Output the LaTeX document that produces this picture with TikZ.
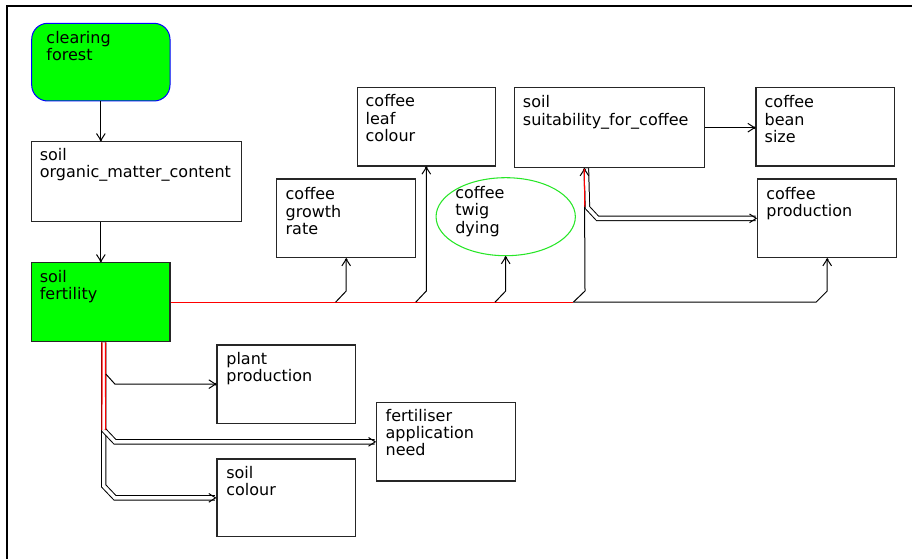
\documentclass[tikz,border=0pt]{standalone}
\usepackage{fontspec}
\setmainfont{DejaVu Sans}
\usetikzlibrary{arrows.meta,fit,shapes.geometric,calc}
\definecolor{twigc}{RGB}{40,230,40}
\begin{document}
\begin{tikzpicture}[x=0.75pt,y=-0.75pt,
  box/.style={draw=black!85, line width=0.9pt, inner sep=0pt},
  gbox/.style={box, fill=green},
  txt/.style={anchor=north west, inner sep=0pt, align=left, font=\fontsize{12pt}{13pt}\selectfont},
  conn/.style={line width=0.75pt, draw=black},
  tipa/.tip={Straight Barb[length=5pt,width=6.5pt,sep=-1.8pt] Circle[length=1.8pt]},
  arr/.style={conn, -tipa},
  dbl/.style={line width=0.75pt, draw=black, double=white, double distance=2.6pt},
  darr/.style={dbl, -{Straight Barb[length=5pt,width=6.5pt]}},
  redl/.style={line width=0.8pt, draw=red},
]
\useasboundingbox (0,0) rectangle (912,559);
% frame
\draw[line width=1.8pt] (6.8,559) -- (6.8,6.3) -- (912,6.3);

% boxes
\node[gbox, draw=blue, line width=0.75pt, rounded corners=12pt, fit={(31.7,23.3) (170,101)}] (clear) {};
\node[box, fit={(31.7,141.7) (241.7,221.7)}] (organic) {};
\node[gbox, fit={(31.7,262.7) (170,341.7)}] (fert) {};
\node[box, fit={(276.7,179) (415.7,257.7)}] (growth) {};
\node[box, fit={(357.3,87.3) (495.3,166)}] (leaf) {};
\node[ellipse, draw=twigc, line width=0.8pt, inner sep=0pt, minimum width=139.3*0.75pt, minimum height=78*0.75pt] (twig) at (505.7,216.7) {};
\node[box, fit={(514.3,87.7) (704.7,167.7)}] (suit) {};
\node[box, fit={(756,87.7) (894.7,166)}] (bean) {};
\node[box, fit={(757.7,179) (896.7,257.7)}] (prod) {};
\node[box, fit={(217,345) (355.7,423.3)}] (plant) {};
\node[box, fit={(217,459) (355.7,536.7)}] (scol) {};
\node[box, fit={(376.7,402.7) (515.3,481)}] (fneed) {};

% texts
\node[txt] (tclear) at ([shift={(15,8)}]clear.north west) {clearing\\forest};
\node[txt] (torganic) at ([shift={(8.5,6.5)}]organic.north west) {soil\\organic\_matter\_content};
\node[txt] (tfert) at ([shift={(8.5,8)}]fert.north west) {soil\\fertility};
\node[txt] (tgrowth) at ([shift={(9.3,9)}]growth.north west) {coffee\\growth\\rate};
\node[txt] (tleaf) at ([shift={(8.7,7.7)}]leaf.north west) {coffee\\leaf\\colour};
\node[txt] (ttwig) at (455,186) {coffee\\twig\\dying};
\node[txt] (tsuit) at ([shift={(9,8.3)}]suit.north west) {soil\\suitability\_for\_coffee};
\node[txt] (tbean) at ([shift={(9,8.3)}]bean.north west) {coffee\\bean\\size};
\node[txt] (tprod) at ([shift={(9,8.3)}]prod.north west) {coffee\\production};
\node[txt] (tplant) at ([shift={(9.7,7.7)}]plant.north west) {plant\\production};
\node[txt] (tscol) at ([shift={(9.7,7.7)}]scol.north west) {soil\\colour};
\node[txt] (tfneed) at ([shift={(9.3,6.7)}]fneed.north west) {fertiliser\\application\\need};

% vertical chain
\draw[arr] (clear.south) -- (clear.south |- organic.north);
\draw[arr] (organic.south -| fert.north) -- (fert.north);

% main line from soil fertility
\draw[redl] (fert.east) -- (573.3,302.2);
\draw[arr] (573.3,302.2) -- (816,302.2) -- (827.2,291) -- (prod.south);
\draw[arr] (335.6,302.2) -- (346.2,291) -- (growth.south);
\draw[arr] (415.7,302.2) -- (426.3,291) -- (leaf.south);
\draw[arr] (495,302.2) -- (505.7,291) -- (twig.south);

% soil suitability links
\draw[darr] ($(suit.south west)+(72.7,0)$) -- (587.4,207.5) -- (597.5,218.35) -- (prod.west);
\draw[arr] (573.3,302.2) -- (585,291) -- ($(suit.south west)+(70.7,0)$);
\draw[redl] ($(suit.south west)+(70.5,0.5)$) -- (584.8,207);
\draw[arr] (suit.east) -- (suit.east -| bean.west);

% links below soil fertility
\draw[darr] ($(fert.south)+(2.9,0)$) -- (103.75,486) -- (115,497.85) -- (scol.west);
\draw[darr] (103.75,430) -- (115,441.85) -- (fneed.west);
\draw[redl] ($(fert.south)+(1.15,0)$) -- (101.95,430);
\draw[redl] ($(fert.south)+(4.65,0)$) -- (105.55,430);
\draw[arr] (105.8,374) -- (115,384.15) -- (plant.west);
\end{tikzpicture}
\end{document}
